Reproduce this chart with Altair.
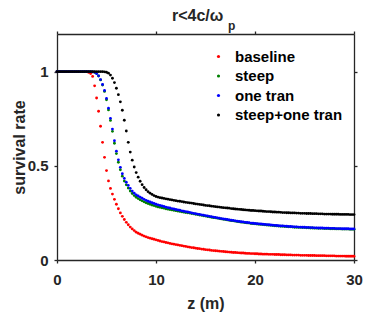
import altair as alt
import pandas as pd

# z sampling grid (m), step 0.2 from 0 to 30
z = [round(0.2 * i, 1) for i in range(151)]

series_names = ["baseline", "steep", "one tran", "steep+one tran"]
series_colors = ["#ff0000", "#008000", "#0000ff", "#000000"]

baseline = [
    1, 1, 1, 1, 1, 1, 1, 1, 1, 1,
    1, 1, 1, 1, 1, 1, .996, .99, .975, .925,
    .86, .79, .71, .625, .545, .475, .42, .38, .35, .322,
    .296, .272, .25, .232, .215, .2, .187, .175, .165, .156,
    .148, .142, .137, .132, .127, .123, .119, .116, .113, .11,
    .107, .104, .101, .098, .096, .093, .091, .088, .086, .084,
    .082, .08, .078, .076, .074, .072, .07, .068, .066, .065,
    .063, .061, .06, .058, .057, .055, .054, .053, .051, .05,
    .049, .048, .047, .046, .045, .044, .043, .042, .041, .04,
    .04, .039, .038, .037, .037, .036, .035, .035, .034, .034,
    .033, .033, .032, .032, .031, .031, .031, .03, .03, .03,
    .029, .029, .029, .028, .028, .028, .027, .027, .027, .026,
    .026, .026, .026, .025, .025, .025, .025, .024, .024, .024,
    .024, .023, .023, .023, .023, .023, .022, .022, .022, .022,
    .022, .021, .021, .021, .021, .021, .02, .02, .02, .02,
    .02,
]

steep = [
    1, 1, 1, 1, 1, 1, 1, 1, 1, 1,
    1, 1, 1, 1, 1, 1, 1, 1, .999, .997,
    .99, .977, .956, .929, .895, .851, .797, .741, .683, .62,
    .565, .519, .479, .445, .419, .399, .382, .366, .353, .342,
    .333, .326, .32, .314, .309, .304, .3, .296, .292, .289,
    .285, .282, .28, .277, .275, .272, .27, .268, .266, .264,
    .262, .26, .258, .256, .254, .252, .251, .249, .247, .245,
    .243, .241, .239, .237, .235, .233, .231, .229, .227, .225,
    .224, .222, .22, .218, .216, .215, .213, .211, .209, .208,
    .206, .204, .203, .201, .2, .198, .197, .196, .194, .193,
    .192, .191, .19, .189, .188, .187, .186, .185, .184, .183,
    .182, .181, .18, .179, .179, .178, .177, .176, .176, .175,
    .174, .174, .173, .173, .172, .172, .171, .171, .17, .17,
    .169, .169, .168, .168, .168, .167, .167, .167, .166, .166,
    .166, .165, .165, .165, .164, .164, .164, .164, .163, .163,
    .163,
]

one_tran = [
    1, 1, 1, 1, 1, 1, 1, 1, 1, 1,
    1, 1, 1, 1, 1, 1, 1, 1, .999, .997,
    .99, .978, .958, .932, .9, .858, .806, .752, .695, .633,
    .578, .532, .492, .458, .433, .413, .396, .38, .366, .355,
    .346, .34, .334, .328, .322, .317, .312, .308, .304, .3,
    .296, .293, .29, .287, .284, .281, .278, .276, .273, .271,
    .268, .266, .264, .261, .259, .257, .255, .253, .25, .248,
    .246, .244, .242, .24, .238, .236, .234, .232, .23, .228,
    .226, .224, .222, .22, .218, .217, .215, .213, .211, .21,
    .208, .206, .205, .203, .202, .2, .199, .198, .196, .195,
    .194, .193, .192, .191, .19, .189, .188, .187, .186, .185,
    .184, .183, .182, .181, .181, .18, .179, .178, .178, .177,
    .176, .176, .175, .175, .174, .174, .173, .173, .172, .172,
    .171, .171, .17, .17, .17, .169, .169, .169, .168, .168,
    .168, .167, .167, .167, .166, .166, .166, .166, .165, .165,
    .165,
]

steep_one_tran = [
    1, 1, 1, 1, 1, 1, 1, 1, 1, 1,
    1, 1, 1, 1, 1, 1, 1, 1, 1, 1,
    1, 1, 1, 1, .999, .997, .992, .982, .965, .942,
    .912, .878, .84, .795, .742, .685, .625, .573, .53, .494,
    .464, .44, .418, .4, .385, .373, .363, .355, .348, .342,
    .337, .334, .331, .329, .327, .325, .323, .321, .319, .317,
    .315, .313, .312, .31, .308, .306, .305, .303, .302, .3,
    .298, .297, .295, .294, .292, .29, .289, .288, .286, .285,
    .283, .282, .281, .279, .278, .277, .276, .275, .273, .272,
    .271, .27, .269, .268, .267, .266, .265, .264, .263, .263,
    .262, .261, .26, .26, .259, .258, .257, .257, .256, .255,
    .255, .254, .254, .253, .252, .252, .251, .251, .25, .25,
    .25, .249, .249, .248, .248, .248, .247, .247, .247, .246,
    .246, .246, .245, .245, .245, .244, .244, .244, .244, .243,
    .243, .243, .243, .242, .242, .242, .242, .242, .241, .241,
    .241,
]

all_series = [baseline, steep, one_tran, steep_one_tran]
for s in all_series:
    assert len(s) == len(z), len(s)

rows = []
k = 0
for name, vals in zip(series_names, all_series):
    for zz, v in zip(z, vals):
        rows.append({"z": zz, "rate": v, "series": name, "k": k})
        k += 1
df = pd.DataFrame(rows)

FONT = "Liberation Sans"
AX = "#262626"

x_scale = alt.Scale(domain=[0, 30], nice=False, zero=False)
y_scale = alt.Scale(domain=[0, 1.2], nice=False, zero=False)

common_axis = dict(
    domainColor=AX, domainWidth=1.3, tickColor=AX, tickWidth=1.3, tickSize=3,
    grid=False, labelFont=FONT, labelFontSize=15, labelFontWeight="bold",
    labelColor=AX, titleFont=FONT, titleFontSize=16, titleFontWeight="bold",
    titleColor=AX, labelFlush=False,
)

points = alt.Chart(df).mark_circle(size=8, opacity=1).encode(
    x=alt.X("z:Q", scale=x_scale,
            axis=alt.Axis(title="z (m)", values=[0, 10, 20, 30], labelPadding=9,
                          titlePadding=8, **common_axis)),
    y=alt.Y("rate:Q", scale=y_scale,
            axis=alt.Axis(title="survival rate", values=[0, 0.5, 1], format="~g",
                          labelPadding=6, titlePadding=0, **common_axis)),
    color=alt.Color("series:N",
                    scale=alt.Scale(domain=series_names, range=series_colors),
                    legend=alt.Legend(orient="none", legendX=154, legendY=15,
                                      title=None, labelFont=FONT, labelFontSize=15,
                                      labelFontWeight="bold", labelColor="#000000",
                                      symbolType="circle", symbolSize=10,
                                      symbolStrokeWidth=0, labelOffset=9,
                                      rowPadding=3.5, padding=0)),
    order=alt.Order("k:Q"),
)

frame = alt.Chart(df).mark_circle(opacity=0).encode(
    x=alt.X("z:Q", scale=x_scale,
            axis=alt.Axis(orient="top", title=None, labels=False,
                          values=[0, 10, 20, 30], **common_axis)),
    y=alt.Y("rate:Q", scale=y_scale,
            axis=alt.Axis(orient="right", title=None, labels=False,
                          values=[0, 0.5, 1], **common_axis)),
)

title_main = alt.Chart(pd.DataFrame({"t": ["r<4c/ω"]})).mark_text(
    font=FONT, fontSize=16, fontWeight="bold", color=AX, align="left",
    baseline="alphabetic",
).encode(text="t:N", x=alt.value(115), y=alt.value(-13))

title_sub = alt.Chart(pd.DataFrame({"t": ["p"]})).mark_text(
    font=FONT, fontSize=12, fontWeight="bold", color=AX, align="left",
    baseline="alphabetic",
).encode(text="t:N", x=alt.value(171), y=alt.value(-4))

chart = alt.layer(points, frame, title_main, title_sub).resolve_axis(
    x="independent", y="independent"
).properties(
    width=297, height=226,
    autosize=alt.AutoSizeParams(type="none"),
    padding={"left": 49, "top": 26, "right": 29, "bottom": 53},
).configure_view(stroke=None)

chart.save("out.html", embed_options={"renderer": "svg", "actions": False})
